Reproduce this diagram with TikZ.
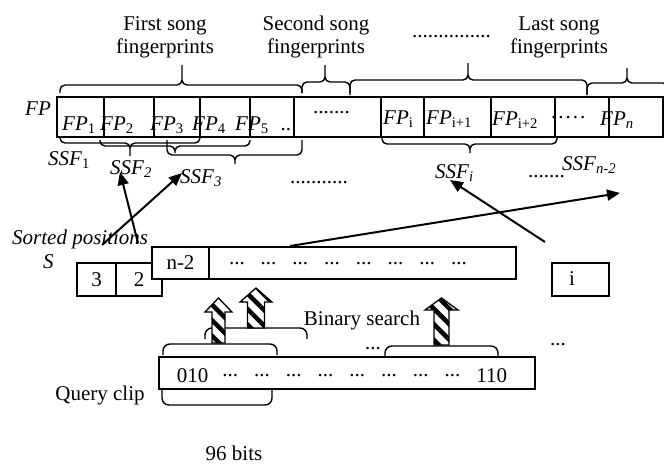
\documentclass[tikz,border=0pt]{standalone}
\usepackage{fontspec}
\setmainfont{Liberation Serif}
\usetikzlibrary{arrows.meta,patterns.meta,positioning}

\newcommand{\dotgrp}{\raisebox{5.5pt}{...}}
% brace: x-left, x-right, x-tip, y-ends, y-flat, y-tip
\newcommand{\wbrace}[6]{\draw[brc] (#1,#4) -- (#1,#5) -- (#3,#5) -- (#3,#6) (#3,#6) -- (#3,#5) -- (#2,#5) -- (#2,#4);}

\begin{document}
\begin{tikzpicture}[x=1pt, y=-1pt, font=\fontsize{21}{23}\selectfont,
  box/.style={draw, line width=1.2pt, fill=white, inner sep=0pt, outer sep=0pt, minimum height=40pt},
  sbox/.style={box, minimum height=33pt},
  lbl/.style={inner sep=0pt, anchor=base west},
  brc/.style={line width=1.4pt, rounded corners=5pt},
  arr/.style={-{Triangle[length=13pt,width=11pt]}, line width=2pt},
  hatch/.style={draw, line width=1.3pt, preaction={fill=white}, pattern={Lines[angle=-45,distance=11pt,line width=4.5pt]}}]
\useasboundingbox (0,0) rectangle (664,466);

% song titles
\node[align=center] (song1) at (165,37) {First song\\fingerprints};
\node[align=center] (song2) at (316,37) {Second song\\fingerprints};
\node[align=center] (songn) at (559,37) {Last song\\fingerprints};
\node[lbl] (songdots) at (412,37) {...............};
\wbrace{60}{302}{182}{93}{85}{65}
\wbrace{302}{350}{325}{93}{82}{65}
\wbrace{350}{587}{468}{95}{80}{63}
\wbrace{587}{668}{627}{95}{83}{68}

% fingerprint row
\node[lbl] (fplab) at (25,115) {\textit{FP}};
\node[box, minimum width=47pt] (fp1) at (80.5,117) {};
\node[box, minimum width=50pt, right=0pt of fp1] (fp2) {};
\node[box, minimum width=46pt, right=0pt of fp2] (fp3) {};
\node[box, minimum width=50pt, right=0pt of fp3] (fp4) {};
\node[box, minimum width=44pt, right=0pt of fp4] (fp5) {};
\node[box, minimum width=87pt, right=0pt of fp5] (fpgap) {};
\node[box, minimum width=43pt, right=0pt of fpgap] (fpi) {};
\node[box, minimum width=67pt, right=0pt of fpi] (fpii) {};
\node[box, minimum width=64pt, right=0pt of fpii] (fpiii) {};
\node[box, minimum width=54pt, right=0pt of fpiii] (fpdots) {};
\node[box, minimum width=54pt, right=0pt of fpdots] (fpn) {};
\node[lbl] (l1) at (62,130) {\textit{FP}\textsubscript{1}};
\node[lbl] (l2) at (100,130) {\textit{FP}\textsubscript{2}};
\node[lbl] (l3) at (150,130) {\textit{FP}\textsubscript{3}};
\node[lbl] (l4) at (192,130) {\textit{FP}\textsubscript{4}};
\node[lbl] (l5) at (235,130) {\textit{FP}\textsubscript{5}\hspace{12pt}..};
\node[lbl] (lgap) at (313,113) {.......};
\node[lbl] (li) at (383,124) {\textit{FP}\textsubscript{i}};
\node[lbl] (lii) at (426,124) {\textit{FP}\textsubscript{i+1}};
\node[lbl] (liii) at (492,125) {\textit{FP}\textsubscript{i+2}};
\node[lbl] (ldots) at (551,124) {\raisebox{5.5pt}{.\kern2pt.\kern2pt.\kern2pt.\kern2pt.}};
\node[lbl] (ln) at (600,125) {\textit{FP\textsubscript{n}}};

% sub-fingerprint braces
\wbrace{60}{200}{130}{137}{143}{156}
\wbrace{100}{250}{175}{140}{146}{153}
\wbrace{167}{302}{235}{140}{155}{164}
\wbrace{382}{557}{470}{136}{144}{153}
\node[lbl] (ssf1) at (48,165) {\textit{SSF}\textsubscript{1}};
\node[lbl] (ssf2) at (110,174) {\textit{SSF\textsubscript{2}}};
\node[lbl] (ssf3) at (180,183) {\textit{SSF\textsubscript{3}}};
\node[lbl] (ssfdots) at (290,183) {...........};
\node[lbl] (ssfi) at (435,178) {\textit{SSF\textsubscript{i}}};
\node[lbl] (ssfdots2) at (528,177) {.......};
\node[lbl] (ssfn) at (562,170) {\textit{SSF\textsubscript{n-2}}};

% sorted positions
\node[lbl] (sortlab) at (12,244) {\textit{Sorted positions}};
\node[lbl] (slab) at (43,268) {\textit{S}};
\node[sbox, minimum width=39pt] (s3) at (96.5,279.5) {3};
\node[sbox, minimum width=46pt, right=0pt of s3] (s2) {2};
\node[box, minimum width=57pt, minimum height=32pt] (sn2) at (180.5,263) {n-2};
\node[box, minimum width=307pt, minimum height=32pt, right=0pt of sn2] (slong) {};
\node[anchor=base, inner sep=0pt] (stxt) at (348,270) {\dotgrp\foreach \k in {2,...,8}{\hspace{16pt}\dotgrp}};
\node[sbox, minimum width=57pt] (si) at (580.5,279.5) {};
\node[inner sep=0pt] (sitxt) at (572,279) {i};

% pointers into the fingerprint row
\coordinate (p2) at (138,243);
\coordinate (p3) at (102,245);
\coordinate (pi) at (545,242);
\coordinate (pn) at (290,246);
\coordinate (q2) at (120,172);
\coordinate (q3) at (182,173);
\coordinate (qi) at (450,180);
\coordinate (qn) at (620,193);
\draw[arr] (p2) -- (q2);
\draw[arr] (p3) -- (q3);
\draw[arr] (pi) -- (qi);
\draw[arr] (pn) -- (qn);

% query clip
\node[box, minimum width=376pt, minimum height=32pt] (qclip) at (347,373) {};
\node[anchor=base, inner sep=0pt] (qtxt) at (342,382) {010\hspace{14pt}\foreach \k in {1,...,8}{\dotgrp\hspace{16pt}}110};
\node[inner sep=0pt] (qlab) at (100,395) {Query clip};
\node[anchor=base, inner sep=0pt] (bits) at (234,460) {96 bits};
\node[anchor=base, inner sep=0pt] (bsearch) at (362,325) {Binary search};
\node[lbl] (qdots) at (365,349) {...};
\node[lbl] (qdots2) at (550,345) {...};
\draw[brc, rounded corners=7pt] (205,339) -- (205,328) -- (307,328) -- (307,339);
\draw[brc, rounded corners=7pt] (163,355) -- (163,344) -- (277,344) -- (277,355);
\draw[brc, rounded corners=7pt] (385,356) -- (385,346) -- (498,346) -- (498,356);
\draw[brc, rounded corners=7pt] (162,389) -- (162,405) -- (272,405) -- (272,389);

% binary search steps
\foreach \cx/\tp/\hb/\bt/\hw/\sw in {218.5/298/312/343/13.5/6.5, 256/288/302/328/16/8.5, 441.5/298/310/345/16.5/7.5}
  \draw[hatch] (\cx-\sw,\bt) -- (\cx-\sw,\hb) -- (\cx-\hw,\hb) -- (\cx,\tp) -- (\cx+\hw,\hb) -- (\cx+\sw,\hb) -- (\cx+\sw,\bt) -- cycle;
\end{tikzpicture}
\end{document}
